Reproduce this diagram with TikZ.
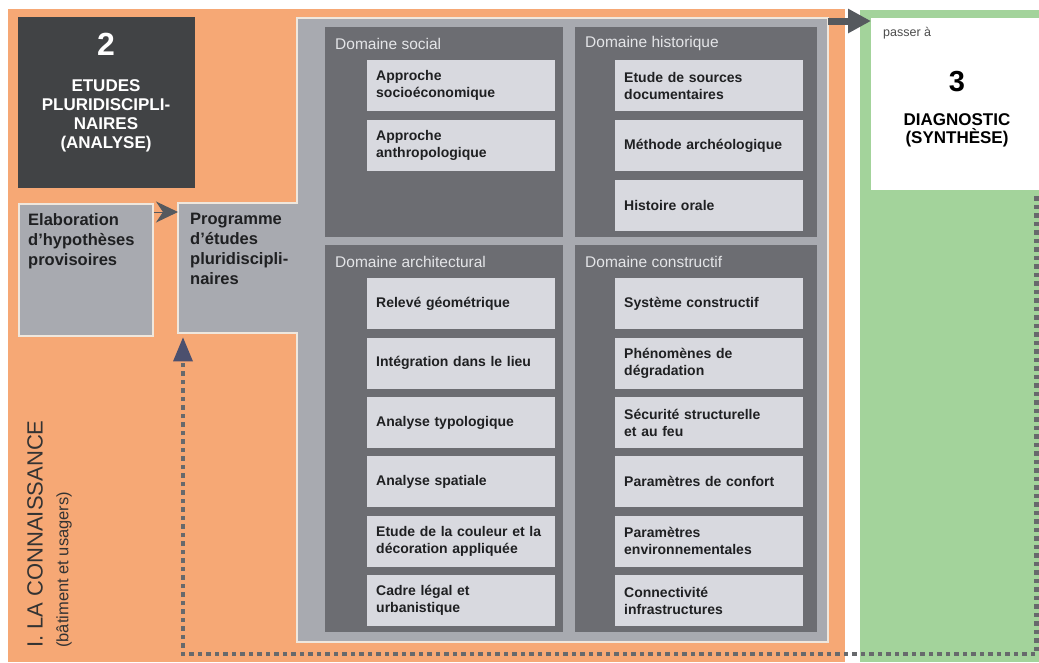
\documentclass[tikz,border=0pt]{standalone}
\usepackage{fontspec}
\setmainfont{Liberation Sans}
\usetikzlibrary{arrows.meta}

\definecolor{orangebg}{HTML}{F6A875}
\definecolor{greenbg}{HTML}{A3D39B}
\definecolor{darkbox}{HTML}{414345}
\definecolor{greyshape}{HTML}{A8AAB0}
\definecolor{panelgrey}{HTML}{6C6D72}
\definecolor{itemgrey}{HTML}{D8D9DF}
\definecolor{edgecream}{HTML}{EFE7DD}
\definecolor{arrowgrey}{HTML}{55595E}
\definecolor{dotgrey}{HTML}{67696C}
\definecolor{ink}{HTML}{1F2022}
\definecolor{titleink}{HTML}{E4E5E8}

\tikzset{
  area/.style={draw=none, anchor=north west, inner sep=0pt},
  itembox/.style={fill=itemgrey, anchor=north west, minimum width=188pt,
    minimum height=51pt, text width=170pt, inner xsep=9pt, inner ysep=0pt,
    align=left, font=\fontsize{14}{17}\selectfont\bfseries, text=ink},
  panelbox/.style={fill=panelgrey, anchor=north west, inner sep=0pt},
  paneltitle/.style={anchor=west, inner sep=0pt, text=titleink,
    font=\fontsize{15.5}{18}\selectfont},
  sidetext/.style={anchor=north west, inner sep=0pt, align=left, text=ink,
    font=\fontsize{16.5}{20}\selectfont\bfseries},
  bigarrow/.style={draw=arrowgrey, line width=7pt,
    -{Triangle[length=23pt,width=23pt]}},
  chevron/.style={draw=arrowgrey, line width=1pt,
    -{Stealth[length=22pt,width=21pt,inset=7pt]}},
  dotline/.style={draw=dotgrey, line width=4.5pt, dash pattern=on 4.5pt off 4pt},
}

\begin{document}
\begin{tikzpicture}[x=1pt, y=-1pt]
  % canvas
  \fill[white] (0,0) rectangle (1039,662);
  \useasboundingbox (0,0) rectangle (1039,662);

  % phase backgrounds
  \fill[orangebg] (8,9) rectangle (845,662);
  \fill[greenbg] (860,10) rectangle (1039,662);

  % phase 3 box
  \node[area, fill=white, minimum width=168pt, minimum height=172pt] (diag) at (871,18) {};
  \node[anchor=west, inner sep=0pt, text=black!70, font=\fontsize{12.5}{14}\selectfont] (passer) at (883,33) {passer à};
  \node[inner sep=0pt, font=\fontsize{29}{32}\selectfont\bfseries] (num3) at (957,82) {3};
  \node[anchor=north, inner sep=0pt, align=center, font=\fontsize{17}{18}\selectfont\bfseries] (diagtxt) at (957,113) {DIAGNOSTIC\\(SYNTHÈSE)};

  % phase 2 title box
  \node[area, fill=darkbox, minimum width=177pt, minimum height=171pt] (phase2) at (18,17) {};
  \node[inner sep=0pt, text=white, font=\fontsize{32}{36}\selectfont\bfseries] (num2) at (106,44) {2};
  \node[anchor=north, inner sep=0pt, align=center, text=white, font=\fontsize{17}{19}\selectfont\bfseries] (phase2txt) at (106,79) {ETUDES\\PLURIDISCIPLI-\\NAIRES\\(ANALYSE)};

  % hypotheses box
  \node[area, fill=greyshape, draw=edgecream, line width=1.5pt, minimum width=134pt, minimum height=132pt] (elab) at (18,203) {};
  \node[sidetext] (elabtxt) at (28,213) {Elaboration\\d'hypothèses\\provisoires};

  % programme area joined with the domain frame
  \filldraw[fill=greyshape, draw=edgecream, line width=1.5pt]
    (297,18) -- (828,18) -- (828,642) -- (297,642) -- (297,333)
    -- (178,333) -- (178,203) -- (297,203) -- cycle;
  \node[area, minimum width=119pt, minimum height=130pt] (prog) at (178,203) {};
  \node[sidetext] (progtxt) at (190,213) {Programme\\d'études\\pluridiscipli-\\naires};

  % domain panels
  \node[panelbox, minimum width=238pt, minimum height=210pt] (social) at (325,27) {};
  \node[panelbox, minimum width=242pt, minimum height=210pt] (histo) at (575,27) {};
  \node[panelbox, minimum width=238pt, minimum height=387pt] (archi) at (325,245) {};
  \node[panelbox, minimum width=242pt, minimum height=387pt] (constr) at (575,245) {};

  \node[paneltitle] (socialT) at ([xshift=10pt,yshift=-16.5pt]social.north west) {Domaine social};
  \node[paneltitle] (histoT) at ([xshift=10pt,yshift=-16.5pt]histo.north west) {Domaine historique};
  \node[paneltitle] (archiT) at ([xshift=10pt,yshift=-16.5pt]archi.north west) {Domaine architectural};
  \node[paneltitle] (constrT) at ([xshift=10pt,yshift=-16.5pt]constr.north west) {Domaine constructif};

  % social items
  \node[itembox] (s1) at (367,60) {Approche\\socioéconomique};
  \node[itembox] (s2) at (367,120) {Approche\\anthropologique};

  % historical items
  \begin{scope}[every node/.append style={minimum width=190pt, text width=172pt}]
    \node[itembox] (h1) at (615,60) {Etude de sources\\documentaires};
    \node[itembox] (h2) at (615,120) {Méthode archéologique};
    \node[itembox] (h3) at (615,180) {Histoire orale};
  \end{scope}

  % architectural items
  \node[itembox] (a1) at (367,278) {Relevé géométrique};
  \node[itembox] (a2) at (367,337.4) {Intégration dans le lieu};
  \node[itembox] (a3) at (367,396.8) {Analyse typologique};
  \node[itembox] (a4) at (367,456.2) {Analyse spatiale};
  \node[itembox] (a5) at (367,515.6) {Etude de la couleur et la\\décoration appliquée};
  \node[itembox] (a6) at (367,575) {Cadre légal et\\urbanistique};

  % constructive items
  \begin{scope}[every node/.append style={minimum width=190pt, text width=172pt}]
    \node[itembox] (c1) at (615,278) {Système constructif};
    \node[itembox] (c2) at (615,337.4) {Phénomènes de\\dégradation};
    \node[itembox] (c3) at (615,396.8) {Sécurité structurelle\\et au feu};
    \node[itembox] (c4) at (615,456.2) {Paramètres de confort};
    \node[itembox] (c5) at (615,515.6) {Paramètres\\environnementales};
    \node[itembox] (c6) at (615,575) {Connectivité\\infrastructures};
  \end{scope}

  % phase label
  \node[rotate=90, anchor=west, inner sep=0pt, text=black!80, font=\fontsize{22}{24}\selectfont] (phase1) at (35,648) {I. LA CONNAISSANCE};
  \node[rotate=90, anchor=west, inner sep=0pt, text=black!80, font=\fontsize{16.5}{18}\selectfont] (phase1sub) at (64,648) {(bâtiment et usagers)};

  % connectors
  \coordinate (out) at (828,21);
  \draw[bigarrow] (out) -- (out -| diag.west);
  \draw[chevron] ([yshift=-9pt]elab.north east) -- ([yshift=-9pt]prog.north west);

  \coordinate (loopstart) at ([xshift=-3pt,yshift=-6pt]diag.south east);
  \coordinate (loopcorner) at (183,654);
  \draw[dotline] (loopstart) |- (loopcorner) -- ([xshift=5pt,yshift=-30pt]prog.south west);
  \draw[draw=none, fill=arrowgrey!90!blue]
    ([xshift=5pt,yshift=-4pt]prog.south west) -- ++(-10,24) -- ++(20,0) -- cycle;
\end{tikzpicture}
\end{document}
